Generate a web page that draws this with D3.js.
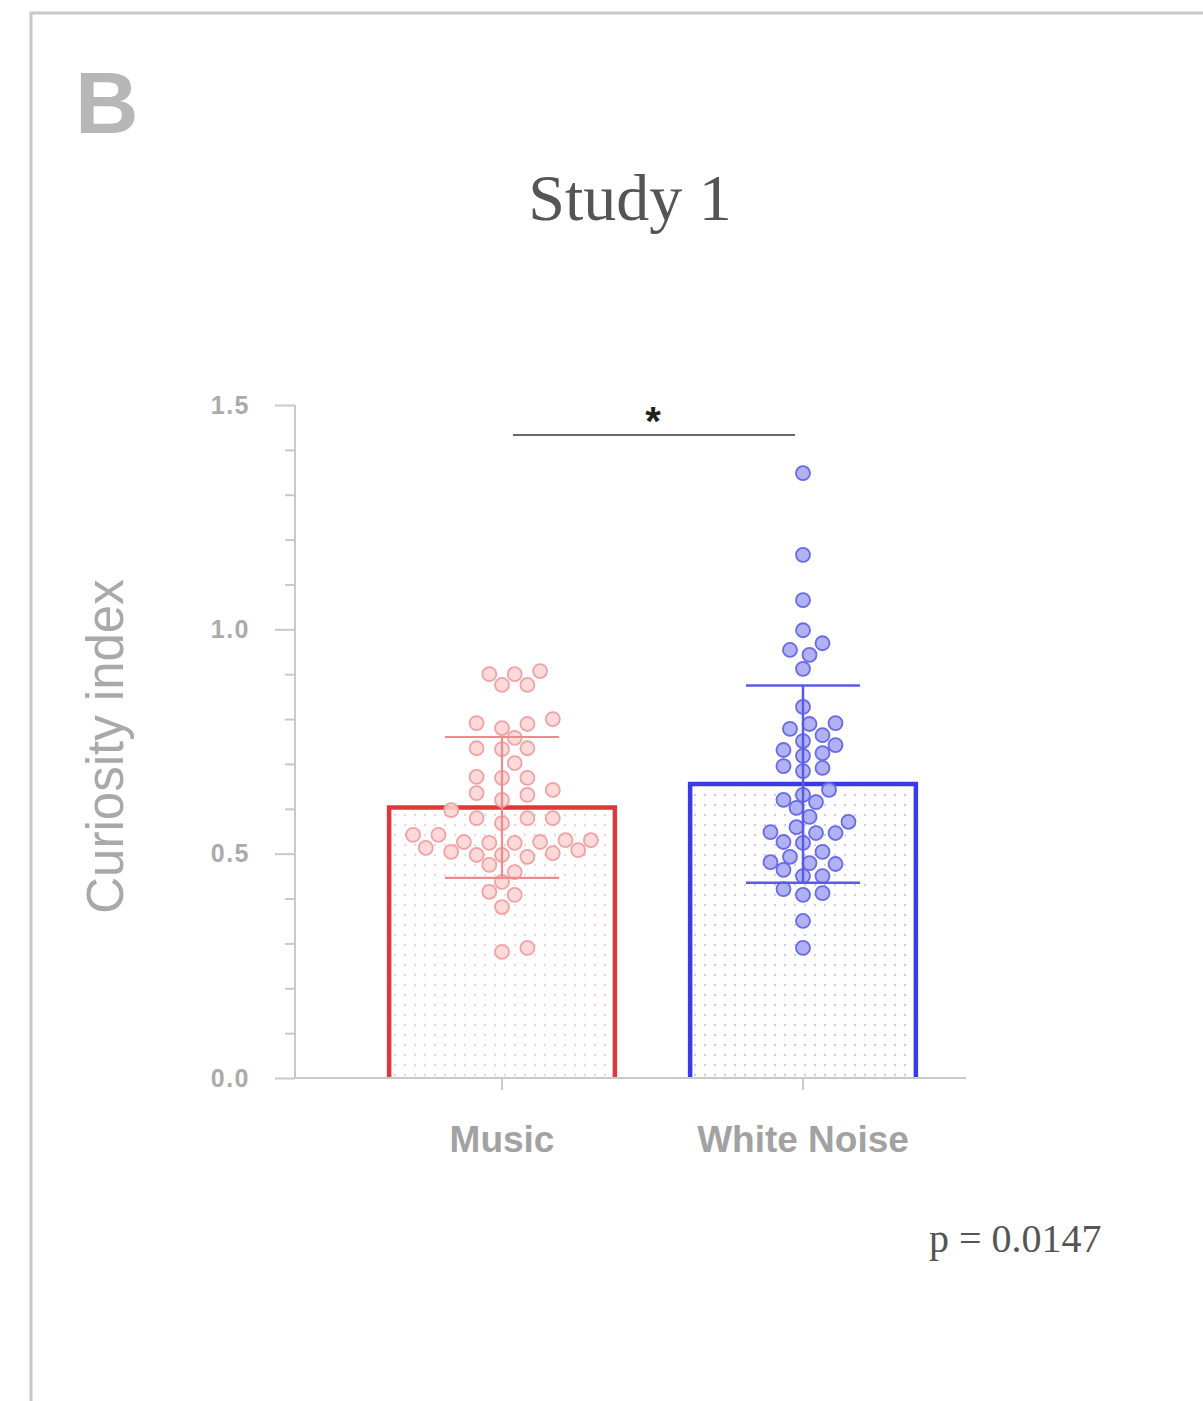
<!DOCTYPE html>
<html>
<head>
<meta charset="utf-8">
<script src="https://cdn.jsdelivr.net/npm/d3@7"></script>
<style>
  html, body { margin: 0; padding: 0; background: #ffffff; }
  svg { display: block; }
</style>
</head>
<body>
<svg id="chart" width="1203" height="1401"></svg>
<script>
// ---------------- data ----------------
const categories = ["Music", "White Noise"];
const means = [0.603, 0.655];
const sds = [0.157, 0.220];
const musicValues = [
  0.876, 0.900, 0.907, 0.900, 0.876,
  0.780, 0.791, 0.800, 0.789, 0.758,
  0.735, 0.735, 0.733, 0.702,
  0.669, 0.669, 0.671, 0.642, 0.631, 0.635, 0.620, 0.597,
  0.568, 0.579, 0.579, 0.579,
  0.524, 0.524, 0.497, 0.513, 0.497, 0.530, 0.493, 0.542,
  0.526, 0.508, 0.542, 0.501, 0.530, 0.504, 0.526,
  0.475, 0.459, 0.437, 0.415, 0.408, 0.381,
  0.290, 0.281
];
const noiseValues = [
  1.348, 1.166, 1.065, 0.998, 0.969, 0.954, 0.943, 0.912,
  0.827, 0.791, 0.789, 0.778, 0.764, 0.751, 0.742, 0.731, 0.724, 0.718,
  0.695, 0.691, 0.684,
  0.642, 0.631, 0.620, 0.615, 0.602, 0.582, 0.571, 0.559,
  0.546, 0.546, 0.548, 0.526, 0.524, 0.504, 0.493,
  0.481, 0.479, 0.477, 0.464, 0.450, 0.450,
  0.421, 0.412, 0.408, 0.350, 0.290
];
const yTicksMajor = [0, 0.5, 1.0, 1.5];
const yTickLabels = ["0.0", "0.5", "1.0", "1.5"];
const yTicksMinor = [0.1, 0.2, 0.3, 0.4, 0.6, 0.7, 0.8, 0.9, 1.1, 1.2, 1.3, 1.4];
const titleText = "Study 1";
const panelLetter = "B";
const yLabel = "Curiosity index";
const pText = "p = 0.0147";
const sigMark = "*";

// ---------------- styles ----------------
const colors = {
  musicStroke: "#e0383a",
  musicErr: "#ee8a8c",
  musicDotFill: "#fbd3d4",
  musicDotStroke: "#f2a2a4",
  musicPattern: "#f4d2d4",
  noiseStroke: "#3a3ae6",
  noiseErr: "#5a5ae8",
  noiseDotFill: "#a9a9f5",
  noiseDotStroke: "#6a6ae6",
  noisePattern: "#c8cbec",
  axis: "#c9c9c9",
  axisText: "#ababab",
  frame: "#c8c8c8"
};

const svg = d3.select("#chart");

// dotted fill patterns
const defs = svg.append("defs");
function addPattern(id, color) {
  const p = defs.append("pattern").attr("id", id)
    .attr("patternUnits", "userSpaceOnUse")
    .attr("width", 10).attr("height", 10);
  p.append("rect").attr("width", 10).attr("height", 10).attr("fill", "#ffffff");
  p.append("circle").attr("cx", 5).attr("cy", 5).attr("r", 1.2).attr("fill", color);
}
addPattern("patMusic", colors.musicPattern);
addPattern("patNoise", colors.noisePattern);

// frame
svg.append("path")
  .attr("d", "M31,1401 V13 H1203")
  .attr("fill", "none").attr("stroke", colors.frame).attr("stroke-width", 3);

// scales
const y = d3.scaleLinear().domain([0, 1.5]).range([1078, 405]);
const x = d3.scaleBand().domain(categories).range([351.5, 953.5])
  .paddingInner(0.25).paddingOuter(0.125);
const cx = c => x(c) + x.bandwidth() / 2;

// panel letter
svg.append("text").attr("x", 75).attr("y", 133)
  .attr("font-family", "Liberation Sans, Arial, sans-serif")
  .attr("font-weight", "bold").attr("font-size", 88)
  .attr("fill", "#b7b7b7").text(panelLetter);

// title
svg.append("text").attr("x", 630).attr("y", 220)
  .attr("text-anchor", "middle")
  .attr("font-family", "Liberation Serif, Times New Roman, serif")
  .attr("font-size", 66).attr("fill", "#555555").text(titleText);

// bars
const barGroup = svg.append("g");
categories.forEach((c, i) => {
  const x0 = x(c), x1 = x(c) + x.bandwidth(), yt = y(means[i]), yb = y(0);
  barGroup.append("rect")
    .attr("x", x0).attr("y", yt).attr("width", x.bandwidth()).attr("height", yb - yt)
    .attr("fill", i === 0 ? "url(#patMusic)" : "url(#patNoise)");
  barGroup.append("path")
    .attr("d", `M${x0},${yb} V${yt} H${x1} V${yb}`)
    .attr("fill", "none")
    .attr("stroke", i === 0 ? colors.musicStroke : colors.noiseStroke)
    .attr("stroke-width", 4.5);
});

// beeswarm layout (deterministic)
function swarm(values, center, minD, step) {
  const sorted = values.map((v, i) => ({ v, i })).sort((a, b) => a.v - b.v);
  const placed = [];
  sorted.forEach(d => {
    const py = y(d.v);
    let k = 0, px;
    while (true) {
      const offs = k === 0 ? [0] : [k * step, -k * step];
      let ok = null;
      for (const o of offs) {
        const tx = center + o;
        if (placed.every(p => (p.x - tx) ** 2 + (p.y - py) ** 2 >= minD * minD)) { ok = tx; break; }
      }
      if (ok !== null) { px = ok; break; }
      k++;
    }
    placed.push({ x: px, y: py, v: d.v });
  });
  return placed;
}

// error bars
function errorBar(i, color, w) {
  const c = categories[i];
  const xc = cx(c);
  const hw = 57;
  const g = svg.append("g").attr("stroke", color).attr("stroke-width", w).attr("fill", "none");
  g.append("line").attr("x1", xc).attr("x2", xc).attr("y1", y(means[i] + sds[i])).attr("y2", y(means[i] - sds[i]));
  g.append("line").attr("x1", xc - hw).attr("x2", xc + hw).attr("y1", y(means[i] + sds[i])).attr("y2", y(means[i] + sds[i]));
  g.append("line").attr("x1", xc - hw).attr("x2", xc + hw).attr("y1", y(means[i] - sds[i])).attr("y2", y(means[i] - sds[i]));
}

// points
const musicPts = swarm(musicValues, cx("Music"), 16, 12.7);
const noisePts = swarm(noiseValues, cx("White Noise"), 14.5, 6.5);

svg.append("g").selectAll("circle").data(musicPts).join("circle")
  .attr("cx", d => d.x).attr("cy", d => d.y).attr("r", 7)
  .attr("fill", colors.musicDotFill).attr("fill-opacity", 0.85)
  .attr("stroke", colors.musicDotStroke).attr("stroke-width", 1.8);
errorBar(0, colors.musicErr, 2.2);

svg.append("g").selectAll("circle").data(noisePts).join("circle")
  .attr("cx", d => d.x).attr("cy", d => d.y).attr("r", 7)
  .attr("fill", colors.noiseDotFill).attr("fill-opacity", 0.9)
  .attr("stroke", colors.noiseDotStroke).attr("stroke-width", 1.8);
errorBar(1, colors.noiseErr, 2.5);

// y axis
const yAxisG = svg.append("g").attr("transform", "translate(295,0)");
yAxisG.call(d3.axisLeft(y).tickValues(yTicksMajor).tickSize(20).tickFormat((d, i) => yTickLabels[i]).tickPadding(25));
yAxisG.select(".domain").remove();
yAxisG.selectAll(".tick line").attr("stroke", colors.axis).attr("stroke-width", 2);
yAxisG.selectAll(".tick text")
  .attr("font-family", "Liberation Sans, Arial, sans-serif")
  .attr("font-weight", "bold").attr("font-size", 25)
  .attr("letter-spacing", 1.5)
  .attr("fill", colors.axisText);
const yMinorG = svg.append("g").attr("transform", "translate(295,0)");
yMinorG.call(d3.axisLeft(y).tickValues(yTicksMinor).tickSize(10).tickFormat(""));
yMinorG.select(".domain").remove();
yMinorG.selectAll(".tick line").attr("stroke", colors.axis).attr("stroke-width", 2);
svg.append("line").attr("x1", 295).attr("x2", 295).attr("y1", y(1.5)).attr("y2", y(0))
  .attr("stroke", colors.axis).attr("stroke-width", 2);

// x axis
const xAxisG = svg.append("g").attr("transform", `translate(0,${y(0)})`);
xAxisG.call(d3.axisBottom(x).tickSize(12).tickPadding(36));
xAxisG.select(".domain").remove();
xAxisG.selectAll(".tick line").attr("stroke", colors.axis).attr("stroke-width", 2);
xAxisG.selectAll(".tick text")
  .attr("font-family", "Liberation Sans, Arial, sans-serif")
  .attr("font-weight", "bold").attr("font-size", 37)
  .attr("fill", "#a2a2a2");
svg.append("line").attr("x1", 294).attr("x2", 966).attr("y1", y(0)).attr("y2", y(0))
  .attr("stroke", colors.axis).attr("stroke-width", 2);

// y label
svg.append("text")
  .attr("transform", `translate(123,${(y(0) + y(1.5)) / 2 + 5}) rotate(-90)`)
  .attr("text-anchor", "middle")
  .attr("font-family", "Liberation Sans, Arial, sans-serif")
  .attr("font-size", 51).attr("fill", "#a9a9a9").text(yLabel);

// significance bar
svg.append("line").attr("x1", 513).attr("x2", 795).attr("y1", 435).attr("y2", 435)
  .attr("stroke", "#6a6a6a").attr("stroke-width", 2);
svg.append("text").attr("x", 653).attr("y", 435).attr("text-anchor", "middle")
  .attr("font-family", "Liberation Sans, Arial, sans-serif")
  .attr("font-weight", "bold").attr("font-size", 40).attr("fill", "#222222").text(sigMark);

// p value
svg.append("text").attr("x", 929).attr("y", 1252)
  .attr("font-family", "Liberation Serif, Times New Roman, serif")
  .attr("font-size", 40).attr("fill", "#555555").text(pText);
</script>
</body>
</html>
